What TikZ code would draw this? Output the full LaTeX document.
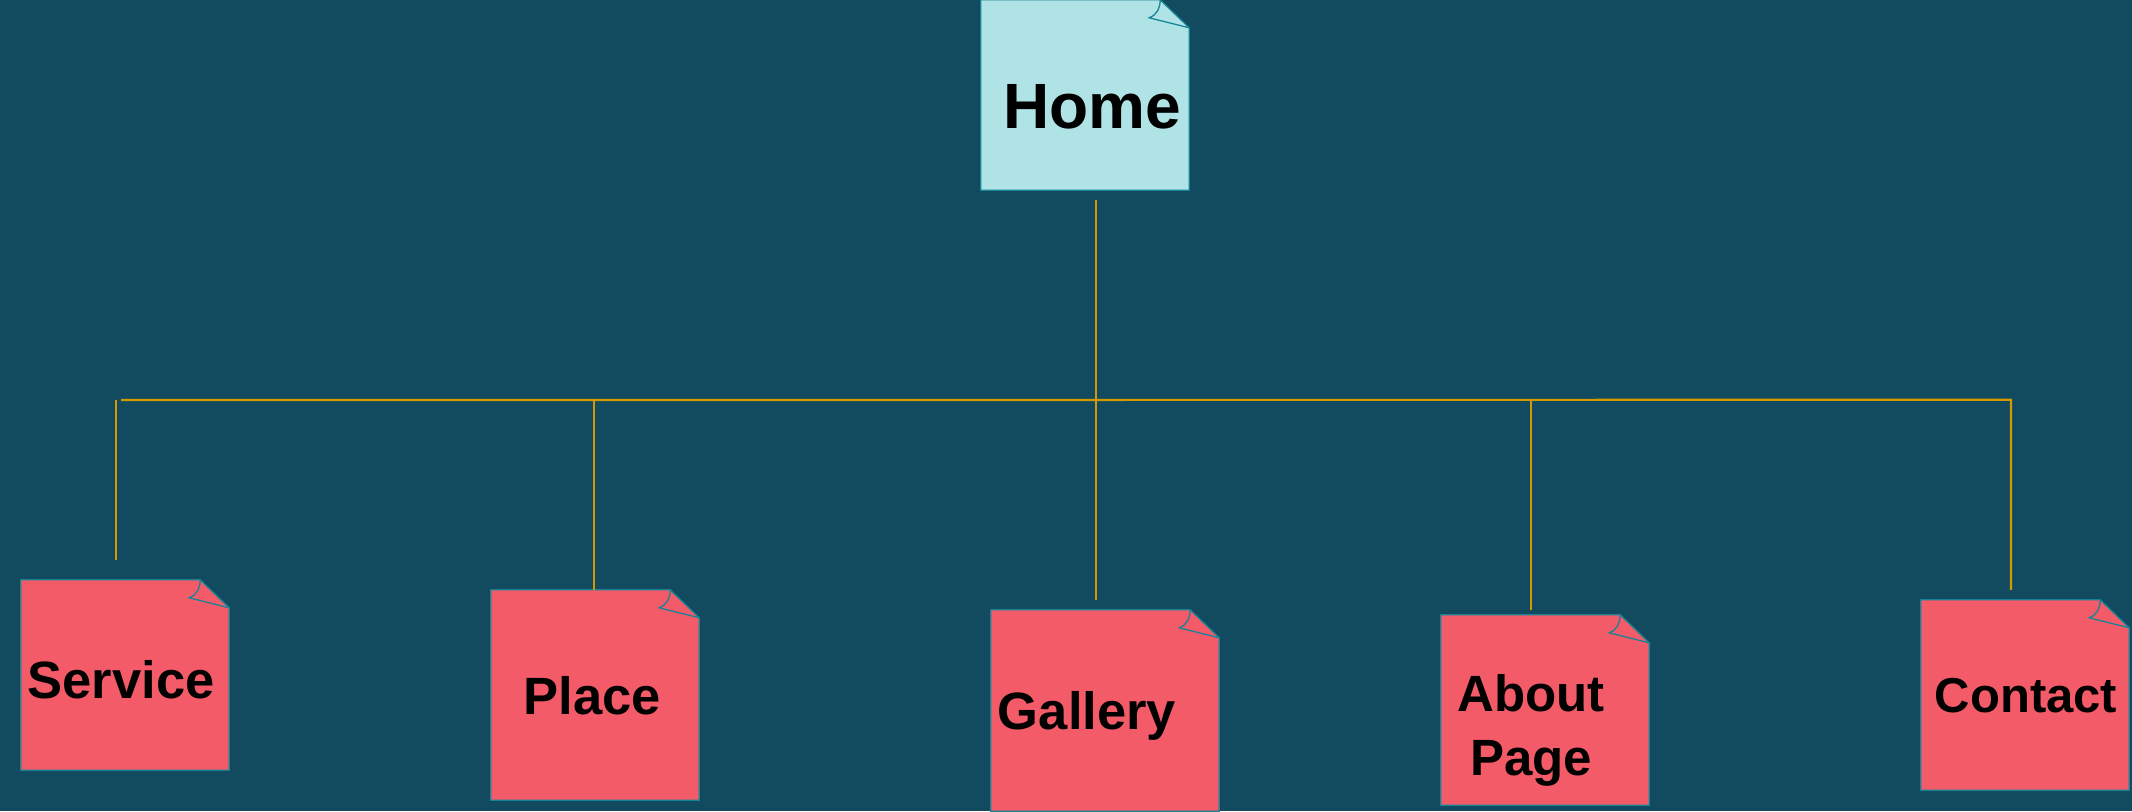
\documentclass[tikz,border=0pt]{standalone}
\usepackage{fontspec}
\setmainfont{Liberation Sans}
\usetikzlibrary{calc}
\definecolor{bgc}{RGB}{18,75,95}
\definecolor{homefill}{RGB}{176,227,230}
\definecolor{redfill}{RGB}{244,91,105}
\definecolor{edgec}{RGB}{20,132,150}
\definecolor{linec}{RGB}{214,152,0}
\newcommand\foldnote[2]{%
  \filldraw[fill=#2, draw=edgec, line width=1.3pt, line join=miter]
    (#1.north west) -- ([xshift=-29pt]#1.north east) -- ([yshift=-28pt]#1.north east)
    -- (#1.south east) -- (#1.south west) -- cycle;
  \draw[edgec, line width=1.3pt]
    ([xshift=-29pt]#1.north east) .. controls ([xshift=-29pt,yshift=-8pt]#1.north east)
    and ([xshift=-32pt,yshift=-15pt]#1.north east) .. ([xshift=-40pt,yshift=-18pt]#1.north east)
    -- ([yshift=-28pt]#1.north east);
}
\tikzset{
  box/.style={rectangle, draw=none, inner sep=0pt, minimum width=#1},
  box/.default=208pt,
  lbl/.style={anchor=base, inner sep=0pt, text=black, font=\bfseries\fontsize{52.5}{64}\selectfont},
  lblsm/.style={lbl, font=\bfseries\fontsize{51}{64}\selectfont, align=center},
  conn/.style={draw=linec, line width=2.2pt}
}
\begin{document}
\begin{tikzpicture}[x=1pt, y=-1pt]
\fill[bgc] (0,0) rectangle (2132,811);
\useasboundingbox (0,0) rectangle (2132,811);

\node[box, minimum height=190pt] (home) at (1085,95) {};
\node[box, minimum height=190pt] (service) at (125,675) {};
\node[box, minimum height=210pt] (place) at (595,695) {};
\node[box=228pt, minimum height=201pt] (gallery) at (1105,710.5) {};
\node[box, minimum height=190pt] (about) at (1545,710) {};
\node[box, minimum height=190pt] (contact) at (2025,695) {};

\foldnote{home}{homefill}
\foldnote{service}{redfill}
\foldnote{place}{redfill}
\foldnote{gallery}{redfill}
\foldnote{about}{redfill}
\foldnote{contact}{redfill}

\node[lbl, font=\bfseries\fontsize{64}{70}\selectfont] (home-t) at (1092,128) {Home};
\node[lbl] (service-t) at (121,698) {Service};
\node[lbl] (place-t) at (592,714) {Place};
\node[lbl] (gallery-t) at (1087,729) {Gallery};
\node[lblsm] (about-t) at (1531,775) {About\\Page};
\node[lbl, font=\bfseries\fontsize{49}{60}\selectfont] (contact-t) at (2026,712) {Contact};

\coordinate (busL) at (121,400);
\draw[conn] ($(home.south)+(11,10)$) -- ++(0,200);
\draw[conn] ($(service.north)+(-9,-20)$) -- ++(0,-160);
\draw[conn] ($(place.north)+(-1,0)$) -- ++(0,-190);
\draw[conn] ($(gallery.north)+(-9,-10)$) -- ++(0,-200);
\draw[conn] ($(about.north)+(-14,-5)$) -- ++(0,-210);
\draw[conn] ($(contact.north)+(-14,-10)$) -- ++(0,-190) -- (busL);
\end{tikzpicture}
\end{document}
